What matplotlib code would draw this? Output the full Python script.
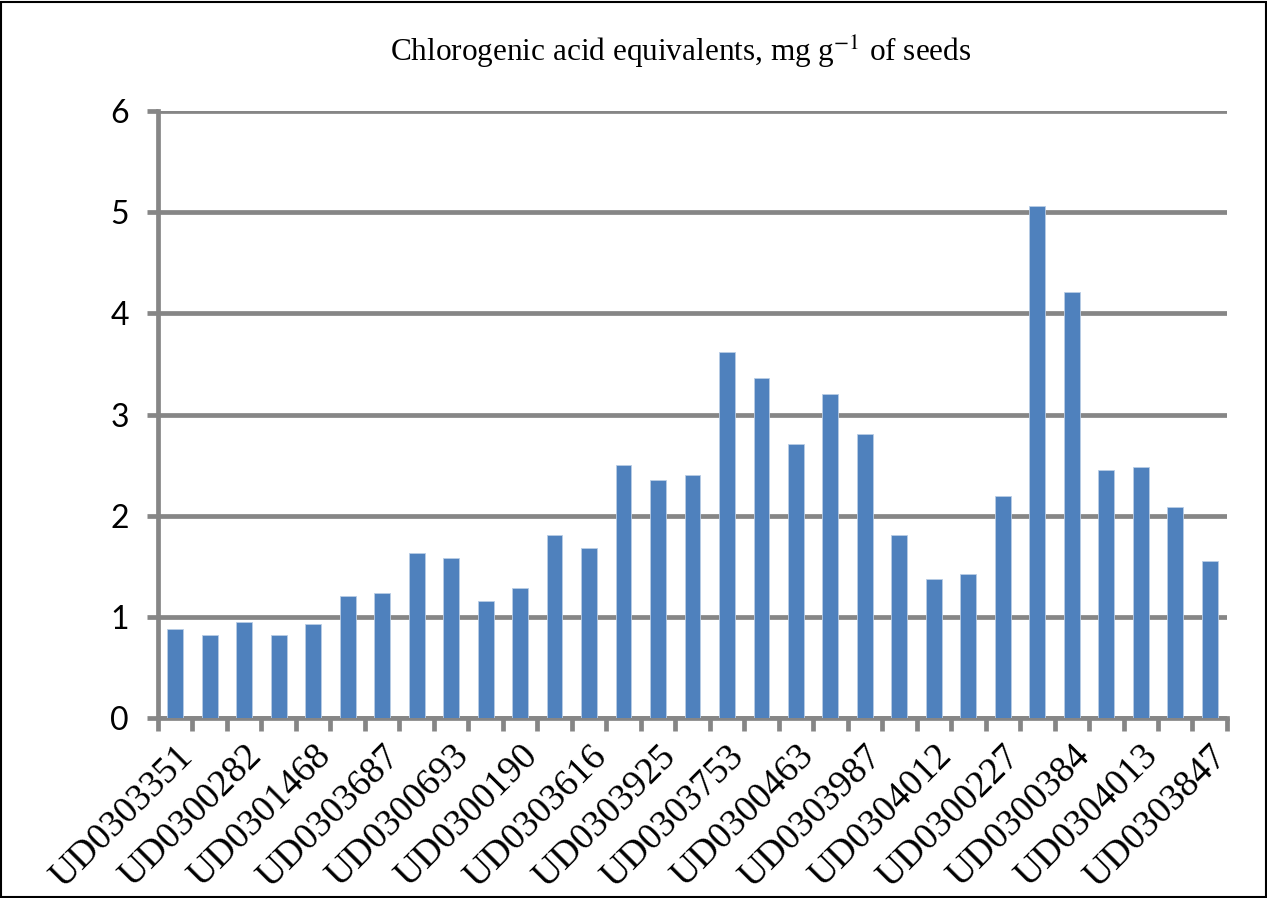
import matplotlib as mpl
mpl.use('Agg')
import matplotlib.pyplot as plt
import numpy as np

# accessions (31 bars, only every 2nd one is labelled)
labels = ["UD0303351", "UD0300282", "UD0301468", "UD0303687", "UD0300693",
          "UD0300190", "UD0303616", "UD0303925", "UD0303753", "UD0300463",
          "UD0303987", "UD0304012", "UD0300227", "UD0300384", "UD0304013",
          "UD0303847"]
values = [0.88, 0.82, 0.95, 0.82, 0.93, 1.21, 1.24, 1.63, 1.58, 1.16,
          1.29, 1.81, 1.68, 2.50, 2.35, 2.40, 3.62, 3.36, 2.71, 3.20,
          2.81, 1.81, 1.37, 1.42, 2.19, 5.06, 4.21, 2.45, 2.48, 2.09, 1.55]
yticks = [0, 1, 2, 3, 4, 5, 6]

plt.rcParams['font.family'] = 'Liberation Serif'
plt.rcParams['mathtext.fontset'] = 'stix'
grey = '#868686'

fig = plt.figure(figsize=(12.67, 8.98), dpi=100)
ax = fig.add_axes([0.1247, 0.2004, 0.8437, 0.676])

x = np.arange(len(values))
ax.bar(x, values, width=0.46, color='#4F81BD', edgecolor='#B9CDE5', linewidth=0.6, zorder=3)

ax.set_xlim(-0.5, len(values) - 0.5)
ax.set_ylim(0, 6)
ax.set_yticks(yticks)
ax.set_yticklabels([str(t) for t in yticks])
ax.yaxis.grid(True, color=grey, linewidth=3.4, zorder=1)
ax.tick_params(axis='y', length=8, width=3.4, color=grey, pad=13)

# ticks between categories, labels on every other bar
ax.set_xticks(np.arange(-0.5, len(values), 1.0))
ax.set_xticklabels([])
ax.set_xticks(x[::2], minor=True)
ax.set_xticklabels(labels, minor=True, rotation=45, ha='right', rotation_mode='anchor')
ax.tick_params(axis='x', which='major', length=9, width=3.4, color=grey)
ax.tick_params(axis='x', which='minor', length=0, pad=15)

for t in ax.get_yticklabels():
    t.set_fontfamily('Lato')
    t.set_fontsize(23)
for t in ax.get_xticklabels(minor=True):
    t.set_fontfamily('Liberation Serif')
    t.set_fontsize(27)

for s in ['top', 'right']:
    ax.spines[s].set_visible(False)
for s in ['left', 'bottom']:
    ax.spines[s].set_color(grey)
    ax.spines[s].set_linewidth(3.4)

fig.text(0.537, 0.942, r'Chlorogenic acid equivalents, mg g$^{-1}$ of seeds',
         ha='center', va='center', fontsize=22.5)

fig.patches.append(plt.Rectangle((0.001, 0.001), 0.998, 0.997, transform=fig.transFigure,
                                 fill=False, edgecolor='black', linewidth=1.5))

fig.savefig('out.png', dpi=100)
